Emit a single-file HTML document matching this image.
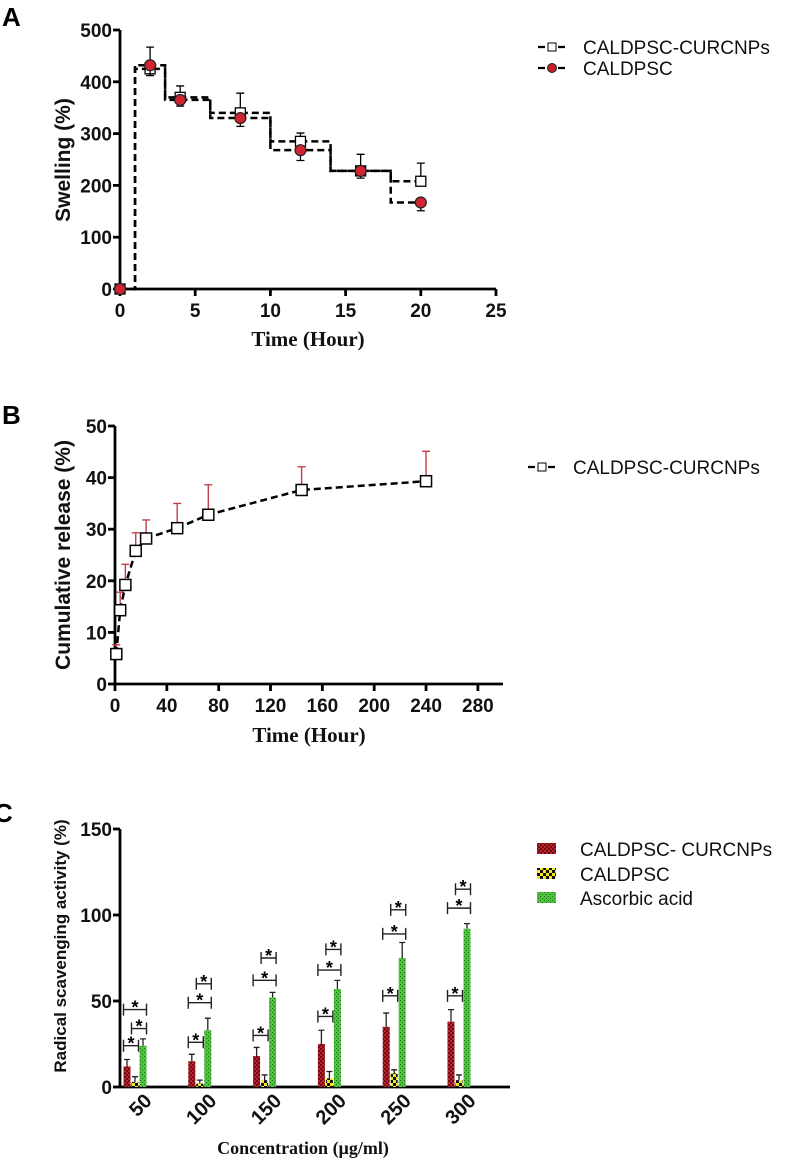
<!DOCTYPE html>
<html><head><meta charset="utf-8"><style>
body{margin:0;background:#fff;width:794px;height:1166px;overflow:hidden}
svg{position:absolute;left:0;top:0}
.tk{font:bold 19px "Liberation Sans",sans-serif;fill:#111}
.yt{font:bold 21px "Liberation Sans",sans-serif;fill:#111}
.xt{font:bold 21px "Liberation Serif",serif;fill:#111}
.lg{font:19px "Liberation Sans",sans-serif;fill:#111}
.pl{font:bold 26px "Liberation Sans",sans-serif;fill:#000}
</style></head><body>
<svg id="s" width="794" height="1166">
<defs>
<pattern id="pr" width="4" height="4" patternUnits="userSpaceOnUse"><rect width="4" height="4" fill="#c0202a"/><rect width="2" height="2" fill="#6a0d12"/><rect x="2" y="2" width="2" height="2" fill="#6a0d12"/></pattern>
<pattern id="py" width="6" height="6" patternUnits="userSpaceOnUse"><rect width="6" height="6" fill="#f2e81a"/><rect width="3" height="3" fill="#111"/><rect x="3" y="3" width="3" height="3" fill="#111"/></pattern>
<pattern id="pg" width="4" height="4" patternUnits="userSpaceOnUse"><rect width="4" height="4" fill="#4cc43c"/><rect width="1" height="1" fill="#1d6a18"/><rect x="2" y="2" width="1" height="1" fill="#1d6a18"/></pattern>
</defs>
<text class="pl" x="2" y="26">A</text>
<text class="pl" x="2" y="424">B</text>
<text class="pl" x="-6" y="822">C</text>
<g id="ga"></g>
<g id="gb"></g>
<g id="gc"></g>
</svg>
<script>
// Chart A data
const aTimes=[0,2,4,8,12,16,20];
const aCur=[0,425,370,340,285,228,208];
const aCurErr=[0,42,22,38,16,32,35];
const aCal=[0,432,365,330,268,228,167];
const aCalErr=[0,20,12,16,20,14,16];
const aXTicks=[0,5,10,15,20,25];
const aYTicks=[0,100,200,300,400,500];
// Chart B data
const bTimes=[1,4,8,16,24,48,72,144,240];
const bVals=[5.8,14.3,19.2,25.8,28.2,30.2,32.8,37.6,39.3];
const bErr=[1.8,3.5,4,3.5,3.6,4.8,5.8,4.5,5.8];
const bXTicks=[0,40,80,120,160,200,240,280];
const bYTicks=[0,10,20,30,40,50];
// Chart C data
const cCats=["50","100","150","200","250","300"];
const cRed=[12,15,18,25,35,38];
const cRedErr=[4,4,5,8,8,7];
const cYel=[3,2,4,5,8,4];
const cYelErr=[3,2,3,4,2,3];
const cGrn=[24,33,52,57,75,92];
const cGrnErr=[4,7,3,5,9,3];
const cYTicks=[0,50,100,150];
const cSig=[[[0,1,24],[1,2,34],[0,2,45]],[[0,1,26],[0,2,49],[1,2,60]],[[0,1,30],[0,2,62],[1,2,75]],[[0,1,41],[0,2,68],[1,2,80]],[[0,1,53],[0,2,89],[1,2,103]],[[0,1,53],[0,2,104],[1,2,115]]];

const NS="http://www.w3.org/2000/svg";
function mk(p,t,a,txt){const e=document.createElementNS(NS,t);for(const k in a)e.setAttribute(k,a[k]);if(txt!==undefined)e.textContent=txt;p.appendChild(e);return e;}
function axes(g,x0,x1,y0,y1,xt,yt,X,Y,nm){
  let e=mk(g,'line',{x1:x0,y1:y0,x2:x0,y2:y1,stroke:'#000','stroke-width':2.8});
  
  
  e=mk(g,'line',{x1:x0,y1:y0,x2:x1,y2:y0,stroke:'#000','stroke-width':2.8});
  
  
  yt.forEach(v=>{mk(g,'line',{x1:x0-7,x2:x0,y1:Y(v),y2:Y(v),stroke:'#000','stroke-width':2.8});
    const t=mk(g,'text',{class:'tk',x:x0-8,y:Y(v)+7,'text-anchor':'end'},v);
    
    });
  if(xt)xt.forEach(v=>{mk(g,'line',{x1:X(v),x2:X(v),y1:y0,y2:y0+7,stroke:'#000','stroke-width':2.8});
    const t=mk(g,'text',{class:'tk',x:X(v),y:y0+28,'text-anchor':'middle'},v);
    
    });
}
// ---- A
(function(){
const g=document.getElementById('ga');
const X=t=>120+t*15.04, Y=v=>289-v*0.518;
axes(g,120,496,289,30,aXTicks,aYTicks,X,Y,'a');
function step(vals,dash,nm){
  let d=`M${X(aTimes[0])},${Y(vals[0])}`;
  for(let i=1;i<aTimes.length;i++){const m=(aTimes[i-1]+aTimes[i])/2;d+=` H${X(m)} V${Y(vals[i])}`;}
  d+=` H${X(aTimes[aTimes.length-1])}`;
  const p=mk(g,'path',{d,fill:'none',stroke:'#000','stroke-width':2.5,'stroke-dasharray':dash});
  
  
}
step(aCur,'7,4','a-line-curcnps');
step(aCal,'7,4','a-line-caldpsc');
aTimes.forEach((t,i)=>{
  if(aCurErr[i]){mk(g,'path',{d:`M${X(t)},${Y(aCur[i])}V${Y(aCur[i]+aCurErr[i])}M${X(t)-4},${Y(aCur[i]+aCurErr[i])}h8`,stroke:'#000','stroke-width':1.3});}
  const r=mk(g,'rect',{x:X(t)-5,y:Y(aCur[i])-5,width:10,height:10,fill:'#fff',stroke:'#000','stroke-width':1.3});
  
  
});
aTimes.forEach((t,i)=>{
  if(aCalErr[i]){mk(g,'path',{d:`M${X(t)},${Y(aCal[i])}V${Y(aCal[i]-aCalErr[i])}M${X(t)-4},${Y(aCal[i]-aCalErr[i])}h8`,stroke:'#000','stroke-width':1.3});}
  const c=mk(g,'circle',{cx:X(t),cy:Y(aCal[i]),r:5.5,fill:'#d02530',stroke:'#222','stroke-width':1.2});
  
  
});
let t=mk(g,'text',{class:'yt',transform:'translate(70,160) rotate(-90)','text-anchor':'middle'},'Swelling (%)');

t=mk(g,'text',{class:'xt',x:308,y:346,'text-anchor':'middle'},'Time (Hour)');

let lg=mk(g,'g',{});
mk(lg,'path',{d:'M538,47h28',stroke:'#000','stroke-width':2.2,'stroke-dasharray':'7,3'});
mk(lg,'rect',{x:548,y:43,width:8,height:8,fill:'#fff',stroke:'#000'});
mk(lg,'text',{class:'lg',x:583,y:54},'CALDPSC-CURCNPs');
lg=mk(g,'g',{});
mk(lg,'path',{d:'M538,68h28',stroke:'#000','stroke-width':2.2,'stroke-dasharray':'7,3'});
mk(lg,'circle',{cx:552,cy:68,r:4.5,fill:'#c0202a',stroke:'#222'});
mk(lg,'text',{class:'lg',x:583,y:75},'CALDPSC');
})();
// ---- B
(function(){
const g=document.getElementById('gb');
const X=t=>115+t*1.296, Y=v=>684-v*5.16;
axes(g,115,503,684,426,bXTicks,bYTicks,X,Y,'b');
bTimes.forEach((t,i)=>{mk(g,'path',{d:`M${X(t)},${Y(bVals[i])}V${Y(bVals[i]+bErr[i])}M${X(t)-4},${Y(bVals[i]+bErr[i])}h8`,stroke:'#c0404a','stroke-width':1.4});});
const p=mk(g,'polyline',{points:bTimes.map((t,i)=>X(t)+','+Y(bVals[i])).join(' '),fill:'none',stroke:'#000','stroke-width':2.5,'stroke-dasharray':'7,4'});

bTimes.forEach((t,i)=>{const r=mk(g,'rect',{x:X(t)-5.5,y:Y(bVals[i])-5.5,width:11,height:11,fill:'#fff',stroke:'#000','stroke-width':1.5});
});
let t=mk(g,'text',{class:'yt',transform:'translate(70,555) rotate(-90)','text-anchor':'middle'},'Cumulative release (%)');

t=mk(g,'text',{class:'xt',x:309,y:742,'text-anchor':'middle'},'Time (Hour)');

let lg=mk(g,'g',{});
mk(lg,'path',{d:'M528,467h28',stroke:'#000','stroke-width':2.2,'stroke-dasharray':'7,3'});
mk(lg,'rect',{x:538,y:463,width:8,height:8,fill:'#fff',stroke:'#000'});
mk(lg,'text',{class:'lg',x:573,y:474},'CALDPSC-CURCNPs');
})();
// ---- C
(function(){
const g=document.getElementById('gc');
const Y=v=>1087-v*1.72;
const C=i=>135+i*64.8;
axes(g,120,510,1087,829,null,cYTicks,null,Y,'c');
const series=[[cRed,cRedErr,'url(#pr)',-8,'red'],[cYel,cYelErr,'url(#py)',0,'yellow'],[cGrn,cGrnErr,'url(#pg)',8,'green']];
cCats.forEach((c,i)=>{
  series.forEach(([v,e,f,o,n])=>{
    const x=C(i)+o;
    mk(g,'path',{d:`M${x},${Y(v[i])}V${Y(v[i]+e[i])}M${x-3},${Y(v[i]+e[i])}h6`,stroke:'#222','stroke-width':1.3});
    const r=mk(g,'rect',{x:x-3.5,y:Y(v[i]),width:7,height:v[i]*1.72,fill:f});
    
    
  });
  cSig[i].forEach(([a,b,v])=>{
    const xa=C(i)+series[a][3]-3.5,xb=C(i)+series[b][3]+3.5,y=Y(v);
    const s=mk(g,'g',{});
    
    
    mk(s,'path',{d:`M${xa},${y-6}v12M${xa},${y}H${xb}M${xb},${y-6}v12`,stroke:'#222','stroke-width':1.4,fill:'none'});
    mk(s,'text',{x:(xa+xb)/2,y:y+4,'text-anchor':'middle',style:'font:bold 18px "Liberation Sans",sans-serif'},'*');
  });
  const t=mk(g,'text',{class:'tk',transform:`translate(${C(i)+18},1102) rotate(-45)`,'text-anchor':'end',style:'font-size:20px'},c);
  
});
let t=mk(g,'text',{class:'yt',style:'font-size:17px',transform:'translate(66,946) rotate(-90)','text-anchor':'middle'},'Radical scavenging activity (%)');

t=mk(g,'text',{class:'xt',style:'font-size:18px',x:303,y:1154,'text-anchor':'middle'},'Concentration (µg/ml)');

[['url(#pr)','CALDPSC- CURCNPs',849],['url(#py)','CALDPSC',874],['url(#pg)','Ascorbic acid',898]].forEach(([f,l,y])=>{
  const lg=mk(g,'g',{});
  
  
  mk(lg,'rect',{x:537,y:y-6,width:19,height:11,fill:f});
  mk(lg,'text',{class:'lg',x:580,y:y+7},l);
});
})();
</script>
</body></html>
